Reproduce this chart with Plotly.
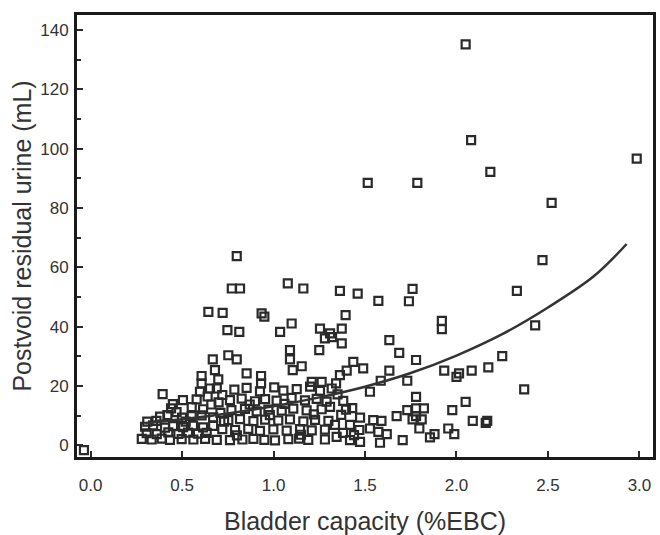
import plotly.graph_objects as go

# --- data (bladder capacity %EBC, postvoid residual mL) ---
upper_x = [2.05, 2.08, 2.185, 1.515, 1.786, 2.985, 2.52, 2.47, 0.799]
upper_y = [135.2, 102.9, 92.2, 88.5, 88.5, 96.7, 81.8, 62.5, 63.8]

band40_x = [2.33, 2.43, 1.92, 1.92, 1.760, 1.740, 1.078, 1.163, 1.363, 1.46, 1.573,
            1.394, 1.099, 1.036, 1.254, 1.309, 1.373, 0.935, 0.95, 0.772, 0.817,
            0.644, 0.722, 0.748, 0.813]
band40_y = [52.1, 40.5, 42.0, 39.2, 52.8, 48.6, 54.6, 52.9, 52.1, 51.2, 48.7,
            43.9, 41.1, 38.3, 39.4, 37.8, 39.4, 44.5, 43.4, 52.9, 52.9,
            45.0, 44.7, 38.9, 38.3]

band20_x = [2.25, 2.174, 2.083, 2.014, 2.0, 1.933, 2.37,
            1.633, 1.373, 1.687, 1.779, 1.436, 1.49, 1.4, 1.363, 1.633, 1.586, 1.731,
            1.527, 1.342, 1.281, 1.25, 1.32,
            0.668, 0.68, 0.607, 0.607, 0.698, 0.753, 0.799, 0.853, 0.932, 0.932,
            1.09, 1.09, 1.105, 1.154, 1.209, 1.263, 0.598, 0.653, 0.69]
band20_y = [30.1, 26.3, 25.2, 24.3, 23.1, 25.2, 18.9,
            35.5, 34.4, 31.2, 28.8, 28.2, 26.0, 25.2, 23.7, 25.2, 21.8, 21.8,
            18.1, 20.9, 36.1, 32.1, 36.5,
            29.0, 25.4, 23.4, 20.9, 22.3, 30.4, 29.0, 24.3, 23.4, 20.9,
            32.1, 29.0, 25.4, 26.7, 21.4, 21.4, 18.1, 19.2, 19.2]

low_right_x = [2.05, 1.977, 2.089, 2.168, 2.16, 1.955, 1.988, 1.88,
               1.381, 1.396, 1.779, 1.779, 1.822, 1.731, 1.673, 1.76, 1.81, 1.797,
               1.855, 1.706, 1.473, 1.545, 1.59, 1.418, 1.469, 1.527, 1.573, 1.619,
               1.418, 1.473, 1.582, 1.336, 1.345, 1.309, 1.779,
               1.35, 1.37, 1.43, 1.44, 1.38]
low_right_y = [14.7, 11.9, 8.3, 8.3, 7.6, 5.7, 3.8, 3.8,
               15.0, 12.1, 16.4, 12.5, 12.5, 11.9, 9.9, 8.8, 8.8, 5.7,
               2.7, 1.8, 9.4, 8.5, 8.3, 6.9, 5.2, 5.7, 4.6, 3.8,
               1.8, 1.2, 0.9, 6.9, 2.9, 13.0, 9.9,
               17.2, 10.3, 12.6, 3.5, 4.2]

low_left_x = [0.394, 0.505,
              0.44, 0.553, 0.615,
              0.38, 0.42, 0.5, 0.553, 0.607, 0.67,
              0.298, 0.342, 0.407, 0.451, 0.506, 0.56, 0.615, 0.67,
              0.307, 0.362, 0.425, 0.48, 0.533, 0.587, 0.635,
              0.28, 0.334, 0.389, 0.434, 0.498, 0.562, 0.626, 0.69,
              0.58, 0.64, 0.70, 0.72, 0.66,
              0.47, 0.52, 0.36, 0.31, 0.45]
low_left_y = [17.3, 15.3,
              12.5, 12.9, 12.2,
              9.7, 10.2, 9.4, 9.9, 10.1, 9.5,
              6.3, 6.8, 6.0, 6.5, 6.2, 6.7, 6.1, 6.6,
              4.1, 3.8, 4.4, 3.9, 4.3, 4.0, 4.2,
              2.2, 2.0, 2.3, 1.9, 2.1, 2.0, 2.2, 1.9,
              15.5, 16.5, 14.5, 17.0, 13.8,
              11.2, 8.0, 8.3, 8.0, 13.9]

low_mid_x = [0.786, 0.853, 0.926, 1.004, 1.054, 1.127, 1.2, 1.254, 1.318,
             0.762, 0.826, 0.899, 0.954, 1.017, 1.099, 1.172, 1.236, 1.29,
             0.77, 0.844, 0.908, 0.972, 1.045, 1.108, 1.181, 1.263,
             0.753, 0.817, 0.89, 0.954, 1.026, 1.09, 1.163, 1.227, 1.3,
             0.79, 0.862, 0.926, 0.999, 1.072, 1.145, 1.209, 1.281,
             0.762, 0.89, 1.008, 1.081, 1.19, 1.281,
             0.83, 0.95, 1.14, 0.72, 0.71, 0.73,
             0.87, 1.06, 0.98, 1.22, 0.80, 1.15]
low_mid_y = [18.8, 19.4, 18.2, 19.6, 18.5, 19.0, 19.8, 18.4, 19.2,
             15.3, 15.8, 14.9, 15.6, 15.1, 16.0, 15.2, 15.7, 14.8,
             11.9, 12.3, 11.5, 12.1, 11.7, 12.4, 11.8, 12.2,
             8.5, 8.9, 8.2, 8.7, 8.4, 8.8, 8.1, 8.6, 8.3,
             5.2, 5.6, 4.9, 5.4, 5.0, 5.5, 5.1, 5.3,
             1.8, 2.2, 1.7, 2.1, 1.9, 2.0,
             2.0, 1.9, 2.3, 5.5, 11.0, 8.0,
             13.8, 14.0, 10.2, 10.5, 3.4, 3.6]

corner_x = [-0.036]
corner_y = [-1.6]

# fitted curve
curve_x = [0.3, 0.5, 0.75, 1.0, 1.25, 1.5, 1.75, 2.0, 2.25, 2.5, 2.75, 2.93]
curve_y = [7.5, 8.8, 10.8, 13.2, 16.2, 19.8, 24.4, 30.3, 37.5, 46.5, 57.0, 67.9]

x_ticks = [0.0, 0.5, 1.0, 1.5, 2.0, 2.5, 3.0]
x_tick_text = ["0.0", "0.5", "1.0", "1.5", "2.0", "2.5", "3.0"]
y_ticks = [0, 20, 40, 60, 80, 100, 120, 140]

all_x = upper_x + band40_x + band20_x + low_right_x + low_left_x + low_mid_x + corner_x
all_y = upper_y + band40_y + band20_y + low_right_y + low_left_y + low_mid_y + corner_y

ink = "#2a2a2a"
font_family = "Liberation Sans, Arial, sans-serif"

fig = go.Figure()
fig.add_trace(go.Scatter(
    x=all_x, y=all_y, mode="markers",
    marker=dict(symbol="square-open", size=8, color=ink, line=dict(width=2.2, color=ink)),
    showlegend=False, cliponaxis=True,
))
fig.add_trace(go.Scatter(
    x=curve_x, y=curve_y, mode="lines",
    line=dict(color="#333333", width=2.5, shape="spline"),
    showlegend=False,
))

fig.update_layout(
    width=660, height=535,
    margin=dict(l=77, r=7, t=15, b=78),
    paper_bgcolor="white", plot_bgcolor="white",
    font=dict(family=font_family, color="#333333"),
)
fig.update_xaxes(
    range=[-0.074, 3.074], automargin=False,
    tickvals=x_ticks, ticktext=x_tick_text,
    ticks="inside", ticklen=6, tickwidth=2, tickcolor=ink,
    showline=True, mirror=True, linewidth=3, linecolor="#1a1a1a",
    showgrid=False, zeroline=False,
    tickfont=dict(size=17, color="#333333"),
    ticklabelstandoff=11,
    title=dict(text="Bladder capacity (%EBC)", font=dict(size=25, color="#333333"), standoff=30),
)
fig.update_yaxes(
    range=[-3.9, 145.1], automargin=False,
    tickvals=y_ticks,
    ticks="inside", ticklen=6, tickwidth=2, tickcolor=ink,
    minor=dict(ticks="inside", ticklen=4, tickwidth=2, tickcolor=ink, dtick=10, tick0=0, showgrid=False),
    showline=True, mirror=True, linewidth=3, linecolor="#1a1a1a",
    showgrid=False, zeroline=False,
    tickfont=dict(size=17, color="#333333"),
    ticklabelstandoff=2,
    title=dict(text="Postvoid residual urine (mL)", font=dict(size=25, color="#333333"), standoff=2),
)

fig.write_html("out.html", config={"displayModeBar": False},
               post_script="document.body.style.margin='0px';")
